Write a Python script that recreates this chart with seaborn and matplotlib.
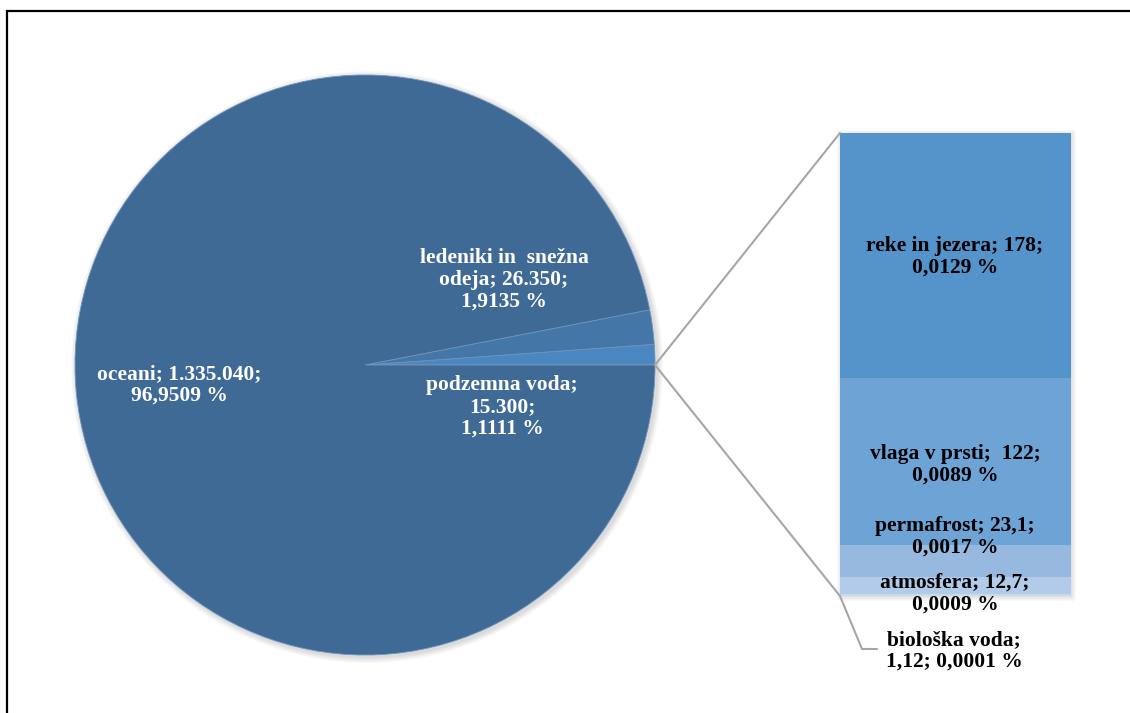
import matplotlib
matplotlib.use("Agg")
import matplotlib.pyplot as plt
import seaborn as sns
from matplotlib.patches import Rectangle, Circle
from matplotlib.lines import Line2D

# Water reserves on Earth (thousand km3)
bar_names = ["biološka voda", "atmosfera", "permafrost", "vlaga v prsti", "reke in jezera"]
bar_values = [1.12, 12.7, 23.1, 122, 178]
bar_colors = ["#C9DAEE", "#B2CBE8", "#97B8DF", "#6EA3D6", "#5593CB"]
bar_texts = [
    "biološka voda;\n1,12; 0,0001 %",
    "atmosfera; 12,7;\n0,0009 %",
    "permafrost; 23,1;\n0,0017 %",
    "vlaga v prsti;  122;\n0,0089 %",
    "reke in jezera; 178;\n0,0129 %",
]

pie_names = ["ostalo", "podzemna voda", "ledeniki in snežna odeja", "oceani"]
pie_values = [sum(bar_values), 15300, 26350, 1335040]
pie_colors = ["#5593CB", "#4A86BF", "#4476A8", "#3E6A95"]
pie_texts = [
    None,
    "podzemna voda;\n15.300;\n1,1111 %",
    "ledeniki in  snežna\nodeja; 26.350;\n1,9135 %",
    "oceani; 1.335.040;\n96,9509 %",
]

W, H = 1130, 713
sns.set_theme(style="white")
plt.rcParams["font.family"] = ["Liberation Serif", "DejaVu Serif"]

fig = plt.figure(figsize=(W / 100, H / 100), dpi=100)
fig.patch.set_facecolor("white")

# Pie axes in pixel units (y measured from the bottom)
ax0 = fig.add_axes([0, 0, 1, 1])
cx, cy, r = 365, 365, 290

# soft drop shadow
for k in range(6):
    ax0.add_patch(Circle((cx + 2, H - cy - 2), r + 1 + k, facecolor="#000000",
                         edgecolor="none", alpha=0.025, zorder=0))

wedges, _ = ax0.pie(
    pie_values,
    colors=pie_colors,
    startangle=0,
    counterclock=True,
    radius=r,
    center=(cx, H - cy),
    wedgeprops=dict(edgecolor="#6E94BC", linewidth=0.6, zorder=1),
)
ax0.set_xlim(0, W)
ax0.set_ylim(0, H)
ax0.set_aspect("auto")
ax0.axis("off")

# Stacked bar breaking down the smallest pie slice
bx0, bx1, by0, by1 = 840, 1071, 133, 596
for k in range(5):
    ax0.add_patch(Rectangle((bx0 - k + 1, H - by1 - k - 1), bx1 - bx0 + 2 * k,
                            by1 - by0 + 2 * k, facecolor="#000000",
                            edgecolor="none", alpha=0.025, zorder=0))

ax_bar = fig.add_axes([bx0 / W, (H - by1) / H, (bx1 - bx0) / W, (by1 - by0) / H])
bottom = 0.0
for name, val, col in zip(bar_names, bar_values, bar_colors):
    sns.barplot(x=["ostalo"], y=[val], bottom=bottom, color=col, width=1.0,
                saturation=1, linewidth=0, ax=ax_bar)
    bottom += val
ax_bar.set_xlim(-0.5, 0.5)
ax_bar.set_ylim(0, sum(bar_values))
ax_bar.axis("off")

# Overlay for labels, connectors and frame
ax1 = fig.add_axes([0, 0, 1, 1])
ax1.set_xlim(0, W)
ax1.set_ylim(0, H)
ax1.axis("off")
ax1.patch.set_alpha(0)

ax1.add_patch(Rectangle((7, -50), W + 100, H - 11 + 50, fill=False,
                        edgecolor="black", linewidth=1.6))

def px(x, y):
    return x, H - y

text_kw = dict(ha="center", va="center", fontsize=15.5, fontweight="bold",
               linespacing=1.13, zorder=5)
pie_label_pos = [None, (502, 407), (504, 280), (179, 385)]
for txt, pos in zip(pie_texts, pie_label_pos):
    if txt:
        ax1.text(*px(*pos), txt, color="white", **text_kw)

bar_label_pos = [(954, 651), (955, 594), (955, 537), (955, 465), (955, 257)]
for txt, pos in zip(bar_texts, bar_label_pos):
    ax1.text(*px(*pos), txt, color="black", **text_kw)

# Connector lines from the pie slice to the bar
line_kw = dict(color="#A6A6A6", linewidth=1.5, zorder=4)
edge = (cx + r, cy)
ax1.add_line(Line2D([edge[0], bx0], [H - edge[1], H - by0], **line_kw))
ax1.add_line(Line2D([edge[0], bx0], [H - edge[1], H - by1], **line_kw))
# Leader line for the thinnest segment
ax1.add_line(Line2D([bx0, 862, 877], [H - by1, H - 649, H - 649], **line_kw))

fig.savefig("out.png", dpi=100, facecolor="white")
